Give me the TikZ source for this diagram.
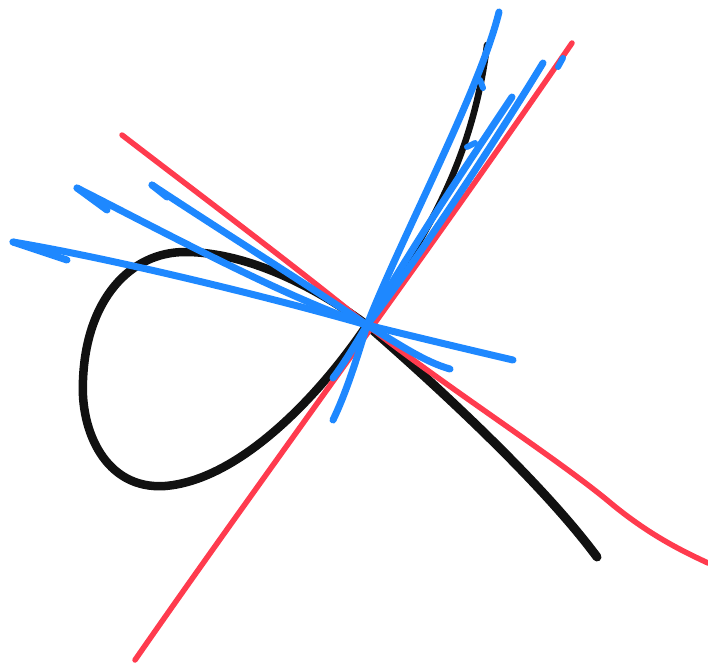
\documentclass[tikz,border=0pt]{standalone}
\begin{document}
\begin{tikzpicture}[x=1pt,y=-1pt,line cap=round,line join=round]
\definecolor{inkred}{HTML}{FF3B4E}
\definecolor{inkblue}{HTML}{1E88FF}
\definecolor{inkblack}{HTML}{111111}
\tikzset{
  curveink/.style={draw=inkblack,line width=8pt},
  redink/.style={draw=inkred,line width=5.5pt},
  blueink/.style={draw=inkblue,line width=7pt},
}
\useasboundingbox (0,0) rectangle (708,664);
\coordinate (c) at (367,325);
% black nodal curve
\draw[curveink,line width=6.5pt] (c) .. controls (410,255) and (470,180) .. (487,45);
\draw[curveink,line width=8.5pt] (c) .. controls (320,395) and (240,480) .. (165,486)
  .. controls (105,490) and (80,430) .. (83,380)
  .. controls (86,300) and (130,252) .. (185,252)
  .. controls (250,252) and (320,290) .. (c);
\draw[curveink,line width=9pt] (c) .. controls (430,380) and (540,480) .. (597,557);
% red tangents
\draw[redink] (572,43) .. controls (430,250) and (260,480) .. (135,660);
\draw[redink] (122,135) .. controls (200,195) and (300,270) .. (c)
  .. controls (450,390) and (560,460) .. (613,505)
  .. controls (650,535) and (680,550) .. (708,563);
% blue lines
\draw[blueink] (13,242) .. controls (120,260) and (280,300) .. (c)
  .. controls (420,338) and (470,350) .. (513,360);
\draw[blueink] (77,188) .. controls (160,230) and (280,295) .. (c)
  .. controls (400,345) and (425,362) .. (450,369);
\draw[blueink] (152,185) .. controls (220,230) and (300,280) .. (c);
\draw[blueink] (499,12) .. controls (480,90) and (400,240) .. (c)
  .. controls (355,365) and (345,395) .. (333,420);
\draw[blueink] (543,63) .. controls (490,150) and (410,270) .. (c)
  .. controls (355,345) and (345,362) .. (333,378);
\draw[blueink] (512,97) .. controls (470,160) and (410,250) .. (c);
% small blue strokes
\draw[blueink,line width=6pt] (563,58) -- (558,67);
\draw[blueink,line width=6pt] (467,147) -- (475,143);
\draw[blueink,line width=6pt] (480,80) -- (483,88);
\draw[blueink] (77,188) -- (107,210);
\draw[blueink] (152,185) -- (167,197);
\draw[blueink] (13,242) -- (67,260);
\end{tikzpicture}
\end{document}
